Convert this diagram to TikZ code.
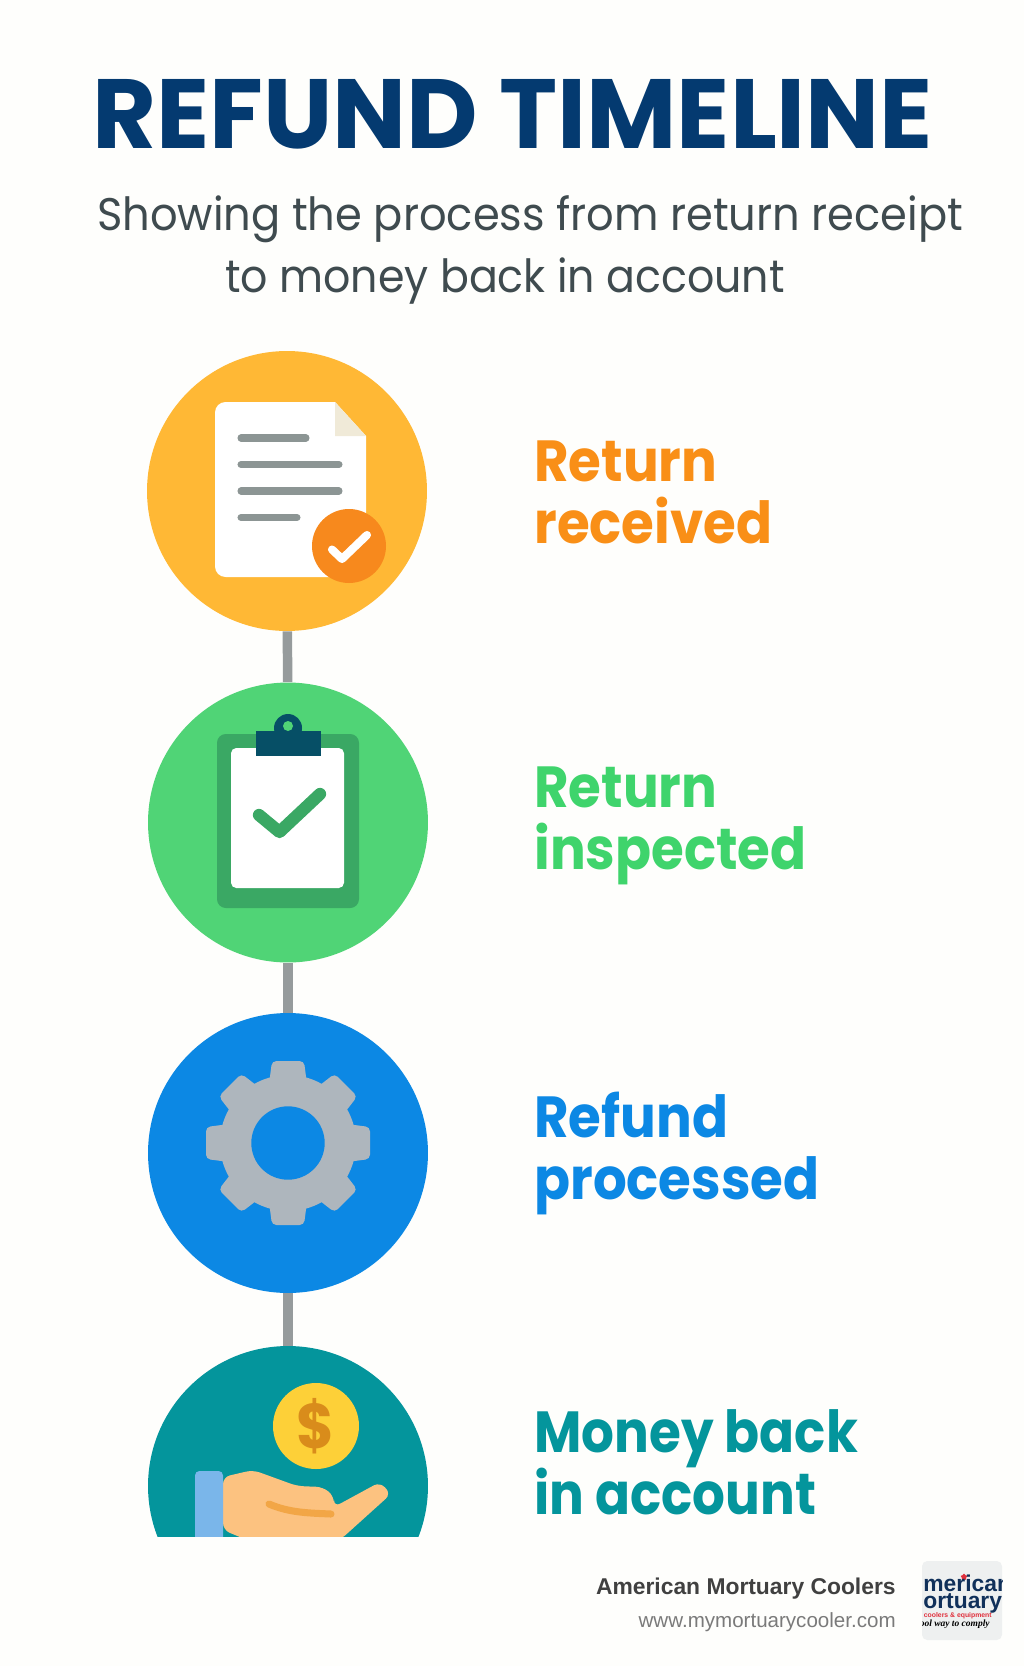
\documentclass[tikz,border=0pt]{standalone}
\usepackage{fontspec}
\setmainfont{Poppins}
\newfontfamily\labelfont[FakeStretch=0.915]{Poppins}
\newfontfamily\moneyfont[FakeStretch=0.89]{Poppins}
\newfontfamily\subfont[FakeStretch=0.945]{Poppins}
\newfontfamily\subfontb[FakeStretch=0.935]{Poppins}
\newfontfamily\footfont{Liberation Sans}
\newfontfamily\logoserif{Liberation Serif}
\usetikzlibrary{shapes.geometric, calc}

\definecolor{pagebg}{HTML}{FEFEFC}
\definecolor{titleblue}{HTML}{043A70}
\definecolor{subgrey}{HTML}{3F4B4F}
\definecolor{linkgrey}{HTML}{969B9C}
\definecolor{sunorange}{HTML}{FFB835}
\definecolor{deeporange}{HTML}{F7891D}
\definecolor{labelorange}{HTML}{F98F17}
\definecolor{foldcream}{HTML}{F0EAD8}
\definecolor{rulegrey}{HTML}{8C9594}
\definecolor{leafgreen}{HTML}{50D476}
\definecolor{darkgreen}{HTML}{3AA864}
\definecolor{labelgreen}{HTML}{3FD46C}
\definecolor{clipnavy}{HTML}{064F66}
\definecolor{skyblue}{HTML}{0C88E4}
\definecolor{geargrey}{HTML}{AEB6BD}
\definecolor{tealmoney}{HTML}{04959C}
\definecolor{coinyellow}{HTML}{FDD038}
\definecolor{coindark}{HTML}{D98C1B}
\definecolor{handskin}{HTML}{FCC280}
\definecolor{handfold}{HTML}{F2A646}
\definecolor{cuffblue}{HTML}{7AB6EA}
\definecolor{logogrey}{HTML}{EEF0F0}
\definecolor{logonavy}{HTML}{10305A}
\definecolor{logored}{HTML}{E0303C}

\begin{document}
\begin{tikzpicture}[x=0.02cm, y=-0.02cm,
    stepdisc/.style={circle, inner sep=0pt, minimum size=5.6cm},
    steplabel/.style={anchor=base west, align=left, inner sep=0pt, font=\labelfont\fontsize{33}{35}\selectfont\bfseries},
    sublabel/.style={anchor=base west, inner sep=0pt, text=subgrey},
    link/.style={line width=5.4pt, linkgrey},
    docrule/.style={line width=4pt, line cap=round, rulegrey},
    tick/.style={line cap=round, line join=round}]
\useasboundingbox (0,0) rectangle (1024,1666);
\fill[pagebg] (0,0) rectangle (1024,1666);

% Heading
\node[anchor=base west, inner sep=0pt, text=titleblue, font=\fontsize{56}{60}\selectfont\bfseries] (title) at (92,149) {REFUND TIMELINE};
\node[sublabel, font=\subfont\fontsize{26}{30}\selectfont] (subone) at (97,230) {Showing the process from return receipt};
\node[sublabel, font=\subfontb\fontsize{26}{30}\selectfont] (subtwo) at (225,292) {to money back in account};

% Discs
\node[stepdisc, fill=sunorange] (received) at (287,491) {};
\node[stepdisc, fill=leafgreen] (inspected) at (288,822.5) {};
\node[stepdisc, fill=skyblue] (processed) at (288,1153) {};
\begin{scope}
\clip (0,0) rectangle (1024,1536);
\node[stepdisc, fill=tealmoney] (money) at (288,1486) {};
\end{scope}

% Links
\draw[link] (received) -- (inspected);
\draw[link] (inspected) -- (processed);
\draw[link] (processed) -- (money);

% Document
\fill[white] (335,402) -- (366,436) -- (366,577) [rounded corners=6pt] -- (215,577) -- (215,402) [sharp corners] -- cycle;
\fill[foldcream] (335,402) -- (366,436) -- (335,436) -- cycle;
\draw[docrule] (241,438) -- (306,438);
\draw[docrule] (241,464.5) -- (339,464.5);
\draw[docrule] (241,491) -- (339,491);
\draw[docrule] (241,517.5) -- (297,517.5);
\fill[deeporange] (349,546) circle (37);
\draw[tick, white, line width=4.6pt] (332,549.5) -- (342,559) -- (367,535);

% Clipboard
\fill[darkgreen, rounded corners=5pt] (217,734) rectangle (359,908);
\fill[white, rounded corners=3pt] (231,748) rectangle (344,888);
\fill[clipnavy] (288,728) circle (14);
\fill[clipnavy] (256,731) rectangle (321,755.5);
\fill[leafgreen] (288,726) circle (5);
\draw[tick, darkgreen, line width=7pt] (259,815) -- (279.5,832) -- (320,794);

% Gear
\foreach \ang in {0,45,...,315}
  \fill[geargrey, rotate around={\ang:(288,1143)}] [rounded corners=2.5pt] (268,1092) -- (272,1061) -- (304,1061) -- (308,1092) -- cycle;
\fill[geargrey] (288,1143) circle (68);
\fill[skyblue] (288,1143) circle (36.7);

% Coin and hand
\fill[coinyellow] (316,1426) circle (43);
\node[text=coindark, font=\labelfont\fontsize{36}{40}\selectfont\bfseries, inner sep=0pt] (dollar) at (316,1426) {\$};
\begin{scope}
\clip (0,0) rectangle (1024,1536);
\fill[handskin, rounded corners=4pt] (223,1477) -- (253,1470) -- (297,1486) -- (323,1487) -- (334,1496) -- (334,1507) -- (380,1482) -- (391,1494) -- (340,1540) -- (247,1540) -- (223,1530) -- cycle;
\fill[cuffblue, rounded corners=2.5pt] (195,1471) rectangle (223,1550);
\draw[handfold, line width=4pt, line cap=round] (269,1504) .. controls (290,1513) and (310,1513) .. (331,1514);
\end{scope}

% Step labels
\node[steplabel, text=labelorange] (receivedtext) at (534,543) {Return\\received};
\node[steplabel, text=labelgreen] (inspectedtext) at (534,869) {Return\\inspected};
\node[steplabel, text=skyblue] (processedtext) at (534,1199) {Refund\\processed};
\node[steplabel, text=tealmoney, font=\moneyfont\fontsize{33}{35}\selectfont\bfseries] (moneytext) at (534,1514) {Money back\\[-1pt]in account};

% Footer
\node[anchor=base east, inner sep=0pt, text=black!75, font=\footfont\fontsize{13}{15}\selectfont\bfseries] (company) at (896,1594) {American Mortuary Coolers};
\node[anchor=base east, inner sep=0pt, text=black!52, font=\footfont\fontsize{11.7}{14}\selectfont] (website) at (896,1627) {www.mymortuarycooler.com};

% Logo
\fill[logogrey, rounded corners=3pt] (922,1561) rectangle (1002,1640);
\begin{scope}
\clip (922,1561) rectangle (1002,1640);
\node[star, star points=5, fill=logored, inner sep=0pt, minimum size=4pt] (logostar) at (964,1577) {};
\node[anchor=base west, align=left, inner sep=0pt, text=logonavy, font=\footfont\fontsize{13}{8.6}\selectfont\bfseries] (logoone) at (923,1608) {merican\\ortuary};
\node[anchor=base east, inner sep=0pt, text=logored, font=\footfont\fontsize{3.9}{5}\selectfont\bfseries] (logothree) at (992,1617) {ary coolers \& equipment};
\node[anchor=base east, inner sep=0pt, text=black, font=\logoserif\fontsize{5.4}{6}\selectfont\bfseries\itshape] (logofour) at (990,1626) {ool way to comply};
\end{scope}
\end{tikzpicture}
\end{document}
